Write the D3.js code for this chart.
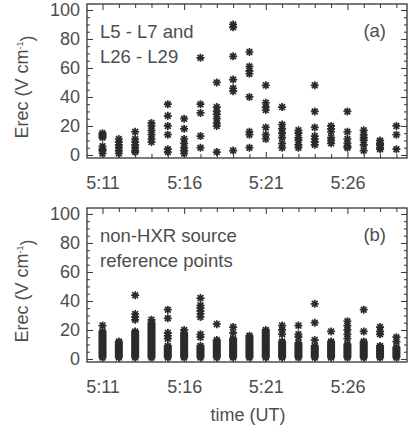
<!DOCTYPE html>
<html><head><meta charset="utf-8">
<script src="https://cdn.jsdelivr.net/npm/d3@7"></script>
<style>
body{margin:0;background:#fff;}
text{font-family:"Liberation Sans",Arial,Helvetica,sans-serif;}
</style></head>
<body><svg id="c" width="410" height="431"></svg>
<script>
// minutes after 5:00 UT
const minutes = [11,12,13,14,15,16,17,18,19,20,21,22,23,24,25,26,27,28,29];
// panel (a): L5-L7 and L26-L29
const erecA = [
  [15,14,13,12,6,4,3,1],
  [11,9,7,5,3,1],
  [16,11,9,7,5,3,2],
  [22,20,17,14,11,9],
  [35,27,20,14,4,2],
  [25,18,11,8,5,3,1],
  [67,35,29,13,5],
  [50,33,30,28,25,22,20,2],
  [90,88,68,52,46,44,3],
  [71,61,58,56,40,16,14,5],
  [48,36,33,31,19,14,11],
  [33,21,18,15,12,8,5],
  [17,15,12,10,7,5],
  [48,30,19,13,11,9,7],
  [20,18,16,12,10,8],
  [30,16,11,8,6,5],
  [17,14,12,10,7,3],
  [10,8,7,5,4],
  [20,14,4]
];
// panel (b): non-HXR source reference points
const erecB = [
  [23,19,18,17,16,15,14,13,12,11,10,9,8,7,6,5,4,3,2,1],
  [12,11,10,9,8,7,6,5,4,3,2,1],
  [44,31,29,27,19,18,17,16,15,14,13,12,11,10,9,8,7,6,5,4,3,2,1],
  [27,25,24,23,22,21,20,19,18,17,16,15,14,13,12,11,10,9,8,7,6,5,4,3,2,1],
  [34,28,18,16,14,9,8,7,6,5,4,3,2,1],
  [20,18,17,16,15,14,13,12,11,10,9,8,7,6,5,4,3,2,1],
  [42,37,35,33,31,29,17,15,9,8,7,6,5,4,3,2,1],
  [24,13,12,11,10,9,8,7,6,5,4,3,2,1],
  [22,18,14,13,12,11,10,9,8,7,6,5,4,3,2,1],
  [16,15,14,13,12,11,10,9,8,7,6,5,4,3,2,1],
  [20,19,18,17,16,15,14,13,12,11,10,9,8,7,6,5,4,3,2,1],
  [23,20,17,12,11,10,9,8,7,6,5,4,3,2,1],
  [23,17,15,11,10,9,8,7,6,5,4,3,2,1],
  [38,25,13,9,8,7,6,5,4,3,2,1],
  [19,12,11,10,9,8,7,6,5,4,3,2,1],
  [26,23,20,17,14,10,9,8,7,6,5,4,3,2,1],
  [34,19,12,11,10,9,8,7,6,5,4,3,2,1],
  [22,19,17,9,8,7,6,5,4,3,2,1],
  [15,12,8,7,6,5,4,3,2,1]
];
const yTicks = [0,20,40,60,80,100];
const yMinor = [5,10,15,25,30,35,45,50,55,65,70,75,85,90,95];
const xTicks = [11,16,21,26];
const xTickLabels = ["5:11","5:16","5:21","5:26"];
const panelLabels = [["L5 - L7 and","L26 - L29"],["non-HXR source","reference points"]];
const panelTags = ["(a)","(b)"];

const svg = d3.select("#c");
const L = 87, R = 407;
const x = d3.scaleLinear().domain([10.05, 29.65]).range([L, R]);
const axisCol = "#333", textCol = "#4d4d4d", ptCol = "#2b2b2b";

function star(s){
  const h = s/2, d = h*0.72;
  return `M0,${-h}V${h}M${-h},0H${h}M${-d},${-d}L${d},${d}M${-d},${d}L${d},${-d}`;
}

function panel(top, bottom, data, labels, tag){
  const y = d3.scaleLinear().domain([-2.1, 104.1]).range([bottom, top]);
  const g = svg.append("g");
  const pts = [];
  data.forEach((col,i)=>col.forEach(v=>pts.push([minutes[i],v])));
  g.selectAll("path.pt").data(pts).enter().append("path")
    .attr("class","pt")
    .attr("transform",d=>`translate(${x(d[0])},${y(d[1])})`)
    .attr("d",star(8))
    .attr("stroke",ptCol).attr("stroke-width",1.7).attr("fill","none");

  const style = sel=>{
    sel.select(".domain").remove();
    sel.selectAll("line").attr("stroke",axisCol).attr("stroke-width",1);
    sel.selectAll("text").attr("fill",textCol).style("font-size","18px")
      .style("font-family",'"Liberation Sans",Arial,sans-serif');
  };
  g.append("g").attr("transform",`translate(${L},0)`)
    .call(d3.axisLeft(y).tickValues(yTicks).tickSize(-6).tickPadding(7)).call(style);
  g.append("g").attr("transform",`translate(${L},0)`)
    .call(d3.axisLeft(y).tickValues(yMinor).tickSize(-3).tickFormat("")).call(style);
  g.append("g").attr("transform",`translate(${R},0)`)
    .call(d3.axisRight(y).tickValues(yTicks).tickSize(-6).tickFormat("")).call(style);
  g.append("g").attr("transform",`translate(${R},0)`)
    .call(d3.axisRight(y).tickValues(yMinor).tickSize(-3).tickFormat("")).call(style);
  const xMinor = minutes.filter(m=>!xTicks.includes(m));
  g.append("g").attr("transform",`translate(0,${bottom})`)
    .call(d3.axisBottom(x).tickValues(xTicks).tickSize(-6).tickPadding(18)
      .tickFormat((d,i)=>xTickLabels[i])).call(style);
  g.append("g").attr("transform",`translate(0,${bottom})`)
    .call(d3.axisBottom(x).tickValues(xMinor).tickSize(-4).tickFormat("")).call(style);
  g.append("g").attr("transform",`translate(0,${top})`)
    .call(d3.axisTop(x).tickValues(xTicks).tickSize(-6).tickFormat("")).call(style);
  g.append("g").attr("transform",`translate(0,${top})`)
    .call(d3.axisTop(x).tickValues(xMinor).tickSize(-4).tickFormat("")).call(style);
  g.append("rect").attr("x",L).attr("y",top).attr("width",R-L).attr("height",bottom-top)
    .attr("fill","none").attr("stroke",axisCol).attr("stroke-width",1.3);
  labels.forEach((t,i)=>{
    g.append("text").attr("x",100).attr("y",top+34+i*25).text(t)
      .attr("fill",textCol).style("font-size","18.5px");
  });
  g.append("text").attr("x",386).attr("y",top+33).attr("text-anchor","end").text(tag)
    .attr("fill",textCol).style("font-size","18.5px");
  const yt = g.append("text").attr("transform",`translate(28,${(top+bottom)/2+6}) rotate(-90)`)
    .attr("text-anchor","middle").attr("fill",textCol).style("font-size","18px");
  yt.append("tspan").text("Erec (V cm");
  yt.append("tspan").text("-1").attr("dy","-0.6em").style("font-size","9px");
  yt.append("tspan").text(")").attr("dy","0.6em");
}

panel(4, 158, erecA, panelLabels[0], panelTags[0]);
panel(208, 362, erecB, panelLabels[1], panelTags[1]);

svg.append("text").attr("x",(L+R)/2+1).attr("y",421).attr("text-anchor","middle")
  .attr("fill",textCol).style("font-size","18px").text("time (UT)");
</script>
</body></html>
